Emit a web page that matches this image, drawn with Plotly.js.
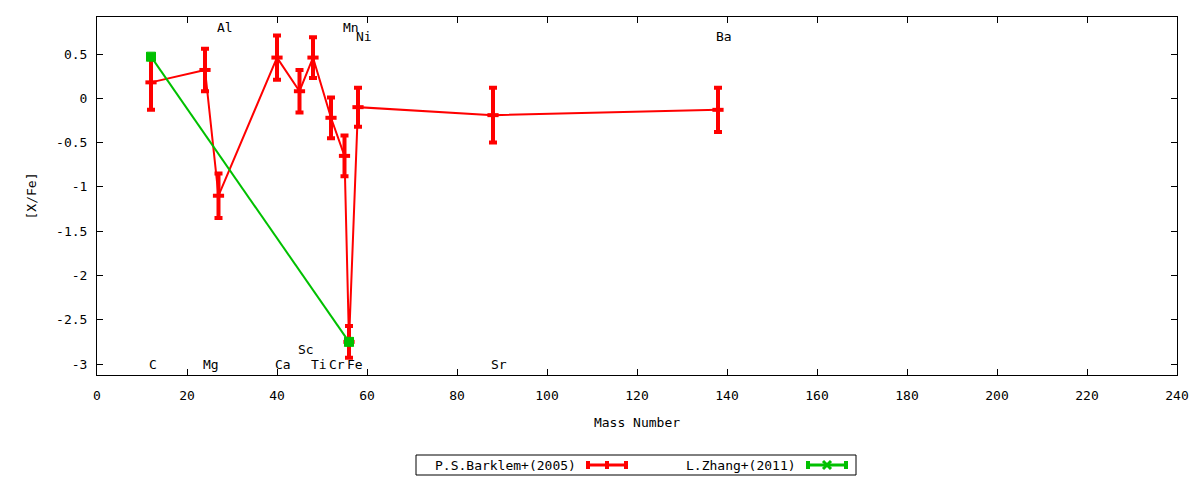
<!DOCTYPE html>
<html>
<head>
<meta charset="utf-8">
<script src="https://cdn.plot.ly/plotly-3.0.1.min.js"></script>
<style>
    html, body { margin: 0; padding: 0; background: #fff; }
    #plot { width: 1200px; height: 480px; }
</style>
</head>
<body>
<div id="plot"></div>
<script>
// element mass numbers and [X/Fe]
var elements = ['C', 'Mg', 'Al', 'Ca', 'Sc', 'Ti', 'Cr', 'Mn', 'Fe', 'Ni', 'Sr', 'Ba'];
var massNumber = [12, 24, 27, 40, 45, 48, 52, 55, 56, 58, 88, 138];
var labelY = [-3, -3, 0.8, -3, -2.84, -3, -3, 0.8, -3, 0.7, -3, 0.7];

var barklemXFe = [0.18, 0.32, -1.10, 0.46, 0.08, 0.46, -0.22, -0.65, -2.75, -0.10, -0.19, -0.13];
var barklemErr = [0.31, 0.24, 0.25, 0.25, 0.24, 0.23, 0.23, 0.23, 0.18, 0.22, 0.31, 0.25];

var zhangMass = [12, 56];
var zhangXFe = [0.47, -2.75];
var zhangErr = [0, 0];

var xTicks = [0, 20, 40, 60, 80, 100, 120, 140, 160, 180, 200, 220, 240];
var yTicks = [0.5, 0, -0.5, -1, -1.5, -2, -2.5, -3];

(function () {
    var font = {family: 'DejaVu Sans Mono, monospace', size: 13, color: '#000'};
    var red = '#ff0000';
    var green = '#00c000';
    var margin = {l: 97, r: 23, t: 17, b: 105};
    var plotW = 1200 - margin.l - margin.r;
    var plotH = 480 - margin.t - margin.b;

    function extend(target, source) {
        for (var k in source) {
            if (!(k in target)) target[k] = source[k];
        }
        return target;
    }

    // pixel position on the page -> paper fraction (legend is drawn by hand, gnuplot style)
    function px(x) { return (x - margin.l) / plotW; }
    function py(y) { return (480 - margin.b - y) / plotH; }

    var barklem = {
        name: 'P.S.Barklem+(2005)',
        x: massNumber,
        y: barklemXFe,
        type: 'scatter',
        mode: 'lines+markers',
        line: {color: red, width: 2},
        marker: {symbol: 'line-ew', size: 8, line: {color: red, width: 4}},
        error_y: {type: 'data', array: barklemErr, visible: true, color: red, thickness: 4, width: 4}
    };

    var zhang = {
        name: 'L.Zhang+(2011)',
        x: zhangMass,
        y: zhangXFe,
        type: 'scatter',
        mode: 'lines+markers',
        line: {color: green, width: 2},
        marker: {symbol: 'square-x', size: 9, color: green, line: {color: green, width: 1}},
        error_y: {type: 'data', array: zhangErr, visible: true, color: green, thickness: 4, width: 5}
    };

    // element names, left edge half a character before the mass number
    var annotations = elements.map(function (el, i) {
        return {
            x: massNumber[i],
            y: labelY[i],
            xref: 'x',
            yref: 'y',
            text: el,
            showarrow: false,
            xanchor: 'left',
            yanchor: 'middle',
            xshift: -4,
            font: font
        };
    });

    // key: text on the left, sample on the right
    var keyY = 465;
    var keyItems = [
        {name: barklem.name, color: red, textEnd: 578, x0: 586, x1: 628, cross: false},
        {name: zhang.name, color: green, textEnd: 798, x0: 806, x1: 848, cross: true}
    ];
    var shapes = [{
        type: 'rect', xref: 'paper', yref: 'paper',
        x0: px(416), x1: px(856), y0: py(455), y1: py(475),
        line: {color: '#000', width: 1}
    }];
    keyItems.forEach(function (k) {
        var mid = (k.x0 + k.x1) / 2;
        annotations.push({
            x: px(k.textEnd), y: py(keyY), xref: 'paper', yref: 'paper',
            text: k.name, showarrow: false, xanchor: 'right', yanchor: 'middle', font: font
        });
        shapes.push({
            type: 'line', xref: 'paper', yref: 'paper',
            x0: px(k.x0), x1: px(k.x1), y0: py(keyY), y1: py(keyY),
            line: {color: k.color, width: 3}
        });
        [k.x0 + 2, k.x1 - 2].forEach(function (cx) {
            shapes.push({
                type: 'line', xref: 'paper', yref: 'paper',
                x0: px(cx), x1: px(cx), y0: py(keyY - 4), y1: py(keyY + 4),
                line: {color: k.color, width: 4}
            });
        });
        if (k.cross) {
            shapes.push({type: 'line', xref: 'paper', yref: 'paper',
                x0: px(mid - 4), x1: px(mid + 4), y0: py(keyY - 4), y1: py(keyY + 4),
                line: {color: k.color, width: 3}});
            shapes.push({type: 'line', xref: 'paper', yref: 'paper',
                x0: px(mid - 4), x1: px(mid + 4), y0: py(keyY + 4), y1: py(keyY - 4),
                line: {color: k.color, width: 3}});
        } else {
            shapes.push({type: 'line', xref: 'paper', yref: 'paper',
                x0: px(mid), x1: px(mid), y0: py(keyY - 4), y1: py(keyY + 4),
                line: {color: k.color, width: 4}});
        }
    });

    var axis = {
        showgrid: false,
        zeroline: false,
        showline: true,
        linecolor: '#000',
        linewidth: 1,
        mirror: 'allticks',
        ticks: 'inside',
        ticklen: 6,
        tickcolor: '#000',
        tickfont: font,
        tickmode: 'array',
        automargin: false
    };

    var layout = {
        width: 1200,
        height: 480,
        margin: {l: margin.l, r: margin.r, t: margin.t, b: margin.b, pad: 0, autoexpand: false},
        paper_bgcolor: '#fff',
        plot_bgcolor: '#fff',
        font: font,
        showlegend: false,
        xaxis: extend({
            range: [0, 240],
            tickvals: xTicks,
            ticktext: xTicks.map(String),
            ticklabelstandoff: 8,
            title: {text: 'Mass Number', font: font, standoff: 16}
        }, axis),
        yaxis: extend({
            range: [-3.124, 0.918],
            tickvals: yTicks,
            ticktext: yTicks.map(String),
            ticklabelstandoff: 6,
            title: {text: '[X/Fe]', font: font, standoff: 16}
        }, axis),
        annotations: annotations,
        shapes: shapes
    };

    Plotly.newPlot('plot', [barklem, zhang], layout, {staticPlot: true});
})();
</script>
</body>
</html>
